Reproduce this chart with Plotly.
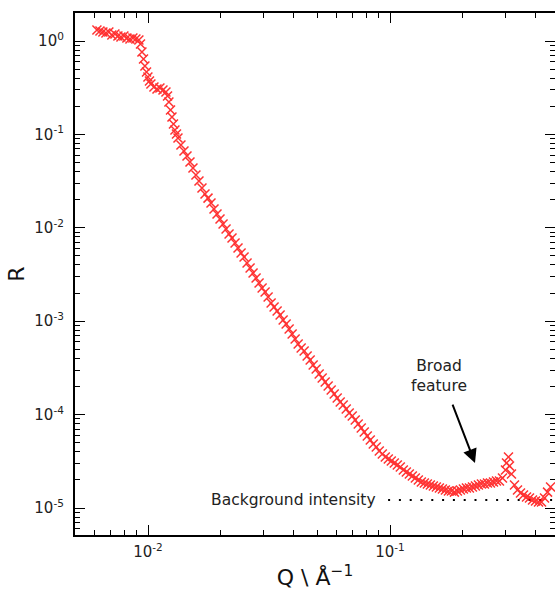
import math
import plotly.graph_objects as go

# Reflectivity data
q_values = [
    0.00615, 0.00633, 0.00651, 0.00670, 0.00689, 0.00709, 0.00730, 0.00751, 0.00773, 0.00795,
    0.00818, 0.00842, 0.00866, 0.00891, 0.00917, 0.00931, 0.00944, 0.00958, 0.00971, 0.00986,
    0.00999, 0.01014, 0.01028, 0.01058, 0.01089, 0.01120, 0.01153, 0.01186, 0.01204, 0.01220,
    0.01239, 0.01256, 0.01274, 0.01292, 0.01311, 0.01330, 0.01368, 0.01408, 0.01449, 0.01491,
    0.01534, 0.01578, 0.01624, 0.01671, 0.01720, 0.01770, 0.01821, 0.01874, 0.01928, 0.01984,
    0.02042, 0.02101, 0.02162, 0.02224, 0.02289, 0.02355, 0.02424, 0.02494, 0.02566, 0.02641,
    0.02717, 0.02796, 0.02877, 0.02961, 0.03047, 0.03135, 0.03226, 0.03319, 0.03416, 0.03515,
    0.03617, 0.03722, 0.03830, 0.03941, 0.04055, 0.04173, 0.04294, 0.04418, 0.04546, 0.04678,
    0.04814, 0.04953, 0.05097, 0.05245, 0.05397, 0.05553, 0.05714, 0.05880, 0.06051, 0.06226,
    0.06407, 0.06593, 0.06784, 0.06981, 0.07183, 0.07392, 0.07606, 0.07827, 0.08054, 0.08287,
    0.08528, 0.08775, 0.09030, 0.09292, 0.09561, 0.09838, 0.10124, 0.10417, 0.10719, 0.11030,
    0.11350, 0.11679, 0.12018, 0.12367, 0.12725, 0.13094, 0.13474, 0.13865, 0.14267, 0.14681,
    0.15107, 0.15545, 0.15996, 0.16459, 0.16937, 0.17428, 0.17934, 0.18454, 0.18989, 0.19540,
    0.20106, 0.20690, 0.21290, 0.21907, 0.22542, 0.23196, 0.23869, 0.24561, 0.25273, 0.26006,
    0.26760, 0.27536, 0.28335, 0.29157, 0.30002, 0.30300, 0.30872, 0.31180, 0.31767, 0.32689,
    0.33637, 0.34612, 0.35616, 0.36649, 0.37712, 0.38805, 0.39931, 0.41089, 0.42280, 0.43506,
    0.44768, 0.46066,
]
r_values = [
    1.311, 1.280, 1.249, 1.218, 1.249, 1.159, 1.188, 1.131, 1.104, 1.131,
    1.077, 1.050, 1.077, 1.050, 1.025, 0.929, 0.763, 0.642, 0.540, 0.466,
    0.412, 0.373, 0.346, 0.322, 0.306, 0.314, 0.299, 0.284, 0.258, 0.222,
    0.1825, 0.1535, 0.1292, 0.1114, 0.1010, 0.0915, 0.0770, 0.0664, 0.0587, 0.0506,
    0.0437, 0.0367, 0.0317, 0.0267, 0.0230, 0.0208, 0.01842, 0.01589, 0.01404, 0.01242,
    0.01098, 0.00971, 0.00858, 0.00778, 0.00688, 0.00608, 0.00537, 0.00487, 0.00420, 0.00371,
    0.00328, 0.00290, 0.00256, 0.00227, 0.00205, 0.00182, 0.00157, 0.00142, 0.001285, 0.001165,
    0.001030, 0.000933, 0.000825, 0.000729, 0.000645, 0.000570, 0.000516, 0.000480, 0.000424, 0.000384,
    0.000340, 0.000308, 0.000272, 0.000246, 0.000223, 0.000202, 0.000183, 0.000166, 0.0001505, 0.0001364,
    0.0001266, 0.0001148, 0.0001040, 0.0000966, 0.0000875, 0.0000793, 0.0000719, 0.0000651, 0.0000590, 0.0000535,
    0.0000484, 0.0000450, 0.0000408, 0.0000379, 0.0000352, 0.0000335, 0.0000319, 0.0000303, 0.0000289, 0.0000275,
    0.0000255, 0.0000243, 0.0000231, 0.0000220, 0.0000210, 0.0000199, 0.0000190, 0.0000185, 0.0000181, 0.0000176,
    0.0000172, 0.0000168, 0.0000164, 0.0000160, 0.0000156, 0.0000152, 0.0000152, 0.0000148, 0.0000152, 0.0000156,
    0.0000160, 0.0000164, 0.0000164, 0.0000168, 0.0000172, 0.0000176, 0.0000181, 0.0000181, 0.0000185, 0.0000185,
    0.0000190, 0.0000195, 0.0000195, 0.0000210, 0.0000255, 0.0000303, 0.0000352, 0.0000282, 0.0000231, 0.0000176,
    0.0000156, 0.0000145, 0.0000138, 0.0000131, 0.0000128, 0.0000122, 0.0000119, 0.0000116, 0.0000116, 0.0000128,
    0.0000148, 0.0000168,
]

background_level = 1.22e-5
background_q = [0.0982, 0.60]

x_tick_vals = [0.01, 0.1]
x_tick_text = ["10<sup>-2</sup>", "10<sup>-1</sup>"]
y_tick_vals = [1, 0.1, 0.01, 0.001, 0.0001, 0.00001]
y_tick_text = ["10<sup>0</sup>", "10<sup>-1</sup>", "10<sup>-2</sup>",
               "10<sup>-3</sup>", "10<sup>-4</sup>", "10<sup>-5</sup>"]

minor_x = [m * 10.0 ** e for e in range(-3, 1) for m in range(2, 10)]
minor_y = [m * 10.0 ** e for e in range(-6, 1) for m in range(2, 10)]

FONT = "DejaVu Sans"
lg = math.log10  # annotations on log axes take log10 coordinates

fig = go.Figure()

fig.add_trace(go.Scatter(
    x=background_q, y=[background_level, background_level],
    mode="lines",
    line=dict(color="black", width=2, dash="2px,8.8px"),
    hoverinfo="skip", showlegend=False,
))

fig.add_trace(go.Scatter(
    x=q_values, y=r_values,
    mode="markers",
    marker=dict(symbol="x-thin", size=9, color="red",
                line=dict(color="red", width=1.5)),
    opacity=0.8,
    showlegend=False,
))

axis_common = dict(
    type="log",
    showline=True, linecolor="black", linewidth=2.2,
    mirror="allticks",
    ticks="inside", ticklen=10, tickwidth=1.4, tickcolor="black",
    showgrid=False, zeroline=False,
    tickmode="array",
    automargin=False,
    tickfont=dict(family=FONT, size=15, color="#222"),
)
minor_common = dict(tickmode="array", ticks="inside", ticklen=5, tickwidth=1.2,
                    tickcolor="black", showgrid=False)

fig.update_xaxes(
    **axis_common,
    range=[-2.3017, -0.3182],
    tickvals=x_tick_vals, ticktext=x_tick_text,
    minor=dict(tickvals=minor_x, **minor_common),
    title=dict(text="Q \\ Å<sup>−1</sup>", font=dict(family=FONT, size=22, color="#111"),
               standoff=10),
    ticklabelstandoff=2,
)
fig.update_yaxes(
    **axis_common,
    range=[-5.289, 0.2998],
    tickvals=y_tick_vals, ticktext=y_tick_text,
    minor=dict(tickvals=minor_y, **minor_common),
    title=dict(text="R", font=dict(family=FONT, size=22, color="#111"), standoff=4),
    ticklabelstandoff=6,
)

fig.add_annotation(
    x=lg(0.2245), y=lg(3.03e-5), xref="x", yref="y",
    ax=-23, ay=-60, axref="pixel", ayref="pixel",
    text="", showarrow=True,
    arrowhead=2, arrowsize=1.4, arrowwidth=2, arrowcolor="black",
)
fig.add_annotation(
    x=lg(0.1594), y=lg(2.59e-4), xref="x", yref="y",
    text="Broad<br>feature", showarrow=False,
    font=dict(family=FONT, size=15.5, color="#222"),
    xanchor="center", yanchor="middle",
)
fig.add_annotation(
    x=lg(0.0892), y=lg(background_level), xref="x", yref="y",
    text="Background intensity", showarrow=False,
    font=dict(family=FONT, size=15.5, color="#222"),
    xanchor="right", yanchor="middle",
)

fig.update_layout(
    width=555, height=592,
    margin=dict(l=75, r=0, t=13, b=57),
    paper_bgcolor="white", plot_bgcolor="white",
    font=dict(family=FONT),
)

# Drop the browser's default 8px body margin so the figure fills the window.
fig.write_html(
    "out.html",
    config={"displayModeBar": False},
    post_script="document.body.style.margin='0px';document.body.style.overflow='hidden';",
)
